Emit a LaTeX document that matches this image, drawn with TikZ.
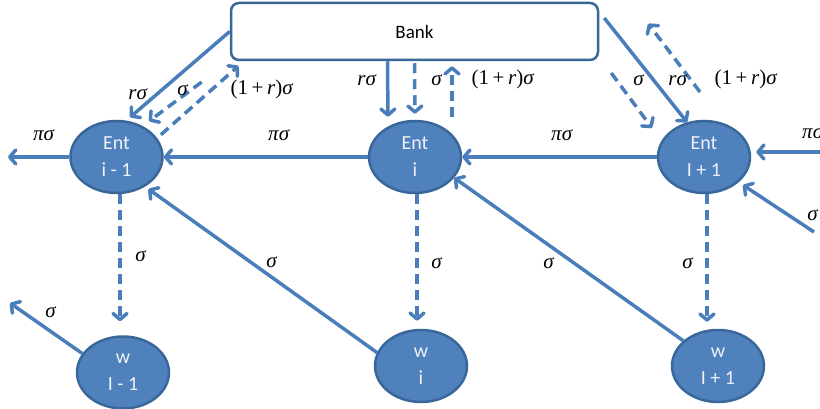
\documentclass[tikz,border=0pt]{standalone}
\usepackage{fontspec}
\newfontfamily\carlito{Carlito}
\newfontfamily\tms{Liberation Serif}
\usetikzlibrary{arrows.meta,shapes.geometric,calc}
\definecolor{fillb}{HTML}{4F81BD}
\definecolor{edgeb}{HTML}{3A679A}
\definecolor{arrb}{HTML}{4A7EBB}
\definecolor{txtw}{HTML}{EEF2F8}
\newcommand{\iv}[1]{\textit{#1}}
\begin{document}
\begin{tikzpicture}[x=1pt,y=-1pt,
  ent/.style={ellipse,draw=edgeb,line width=2.5pt,fill=fillb,minimum width=92pt,minimum height=72pt,inner sep=0pt,text=txtw,font=\carlito\fontsize{20}{27}\selectfont,align=center},
  bankbox/.style={draw=edgeb,line width=2.5pt,rounded corners=8pt,fill=white,minimum width=367pt,minimum height=57pt,inner sep=0pt,font=\carlito\fontsize{19}{22}\selectfont},
  arr/.style={draw=arrb,line width=3.5pt,-{Straight Barb[length=6pt,width=14pt,round]}},
  dsh/.style={arr,dash pattern=on 10pt off 6pt},
  lab/.style={font=\tms\fontsize{21}{24}\selectfont,inner sep=0pt}]
\useasboundingbox (0,0) rectangle (820,409);
\clip (0,0) rectangle (820,409);

% nodes
\node[bankbox] (bank) at (414.5,31.5) {Bank};
\node[ent] (E1) at (116.5,157) {Ent\\i - 1};
\node[ent] (E2) at (415,157) {Ent\\i};
\node[ent] (E3) at (704,157) {Ent\\I + 1};
\node[ent] (W1) at (123,372.5) {w\\I - 1};
\node[ent] (W2) at (421,366) {w\\i};
\node[ent] (W3) at (718,366) {w\\I + 1};

\coordinate (L) at (8,157);
\coordinate (R) at (824,152);
\coordinate (RB) at (814,232);
\coordinate (UL) at (10,303);

% bank <-> Ent i-1
\draw[arr,shorten >=5pt] (bank.west) -- (E1.75);
\draw[dsh,shorten <=35pt,shorten >=8pt] (bank.south west) -- (E1.50);
\draw[dsh,shorten <=5pt,shorten >=7pt] (E1.25) -- ($(bank.south west)+(14,0)$);
% bank <-> Ent i
\draw[arr,shorten >=3pt] ($(bank.south)+(-27,0)$) -- ($(E2.north)+(-27,0)$);
\draw[dsh,shorten <=2pt,shorten >=6pt] (bank.south) -- (E2.north);
\draw[dsh,shorten <=3pt,shorten >=5pt] ($(E2.north)+(37,0)$) -- ($(bank.south)+(37.5,0)$);
% bank <-> Ent I+1
\draw[arr] ($(bank.east)+(5,-13.5)$) -- (E3.116);
\draw[dsh] ($(bank.east)+(12,41.5)$) -- ($(E3.center)+(-52,-29)$);
\draw[dsh] ($(E3.center)+(-4,-65)$) -- ($(bank.north east)+(49,22)$);
% horizontal
\draw[arr] (E2.west) -- (E1.east);
\draw[arr] (E3.west) -- (E2.east);
\draw[arr] (E1.west) -- (L);
\draw[arr] (R) -- ($(E3.east)+(5,-5)$);
\draw[arr,shorten >=5pt] (RB) -- (E3.-36);
% vertical dashed
\draw[dsh] ($(E1.south)+(3.5,0)$) -- ($(W1.north)+(-3,-14)$);
\draw[dsh] ($(E2.south)+(2,0)$) -- ($(W2.north)+(-4,-8)$);
\draw[dsh] ($(E3.south)+(3,0)$) -- ($(W3.north)+(-11,-7)$);
% diagonals
\draw[arr,shorten >=4pt] (W2.163) -- (E1.-46);
\draw[arr] (W3.144) -- (E2.-28);
\draw[arr] (W1.155) -- (UL);

% labels
\node[lab] (l1) at (138,94) {\iv{rσ}};
\node[lab] (l2) at (183,90) {\iv{σ}};
\node[lab] (l3) at (262,89) {(1\,+\,\iv{r})\iv{σ}};
\node[lab] (l4) at (367,80) {\iv{rσ}};
\node[lab] (l5) at (437,80) {\iv{σ}};
\node[lab] (l6) at (503,79) {(1\,+\,\iv{r})\iv{σ}};
\node[lab] (l7) at (639,80) {\iv{σ}};
\node[lab] (l8) at (678,80) {\iv{rσ}};
\node[lab] (l9) at (746,79) {(1\,+\,\iv{r})\iv{σ}};
\node[lab] (l10) at (44,135) {\iv{πσ}};
\node[lab] (l11) at (279,135) {\iv{πσ}};
\node[lab] (l12) at (562,135) {\iv{πσ}};
\node[lab] (l13) at (813,133) {\iv{πσ}};
\node[lab] (l14) at (813,215) {\iv{σ}};
\node[lab] (l15) at (141,256) {\iv{σ}};
\node[lab] (l16) at (272,262) {\iv{σ}};
\node[lab] (l17) at (51,312) {\iv{σ}};
\node[lab] (l18) at (437,263) {\iv{σ}};
\node[lab] (l19) at (549,263) {\iv{σ}};
\node[lab] (l20) at (688,263) {\iv{σ}};
\end{tikzpicture}
\end{document}
